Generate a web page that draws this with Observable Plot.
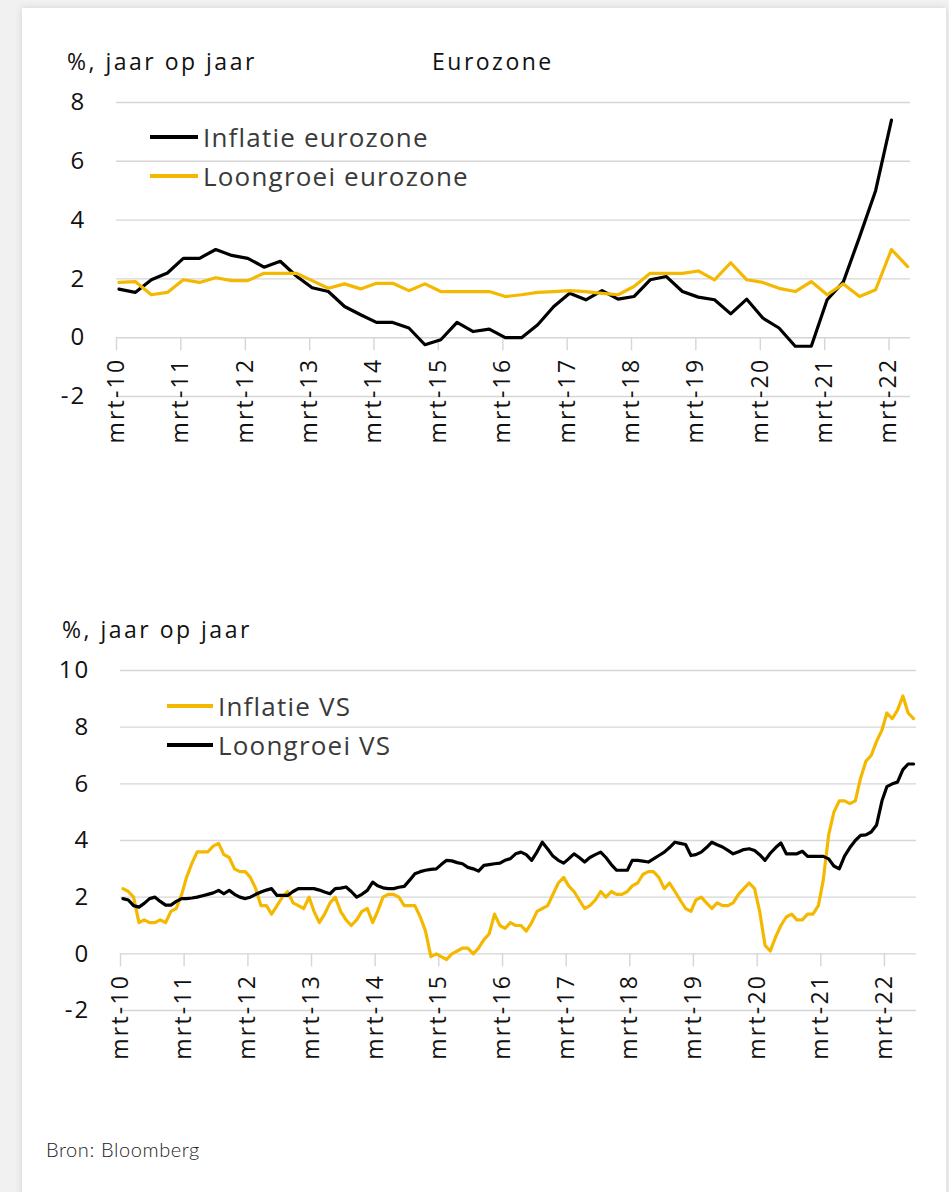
<!DOCTYPE html>
<html>
<head>
<meta charset="utf-8">
<script src="https://cdn.jsdelivr.net/npm/d3@7"></script>
<script src="https://cdn.jsdelivr.net/npm/@observablehq/plot@0.6"></script>
<style>
  html, body { margin: 0; padding: 0; background: #f1f1f1; }
  #page { position: relative; width: 949px; height: 1192px; overflow: hidden; background: #f1f1f1; }
  #card { position: absolute; left: 22px; top: 8px; width: 924px; height: 1200px; background: #fff;
          box-shadow: 0 0 7px rgba(0,0,0,0.13); }
  .abs { position: absolute; }
  .title { font-family: "Open Sans", sans-serif; font-size: 23px; letter-spacing: 2.5px; color: #111; white-space: nowrap; line-height: 1; }
  .leg { font-family: "Open Sans", sans-serif; font-size: 26px; letter-spacing: 1.2px; color: #3a3a3a; white-space: nowrap; line-height: 1; display: flex; align-items: center; }
  .leg .sw { display: inline-block; height: 3.5px; margin-right: 5px; }
  .caption { font-family: Lato, sans-serif; font-weight: 300; font-size: 20px; letter-spacing: 0.6px; color: #222; white-space: nowrap; }
  svg { position: absolute; left: 0; }
</style>
</head>
<body>
<div id="page">
  <div id="card"></div>
</div>
<script>
// ---------- data ----------
const xTickLabels = ["mrt-10","mrt-11","mrt-12","mrt-13","mrt-14","mrt-15","mrt-16","mrt-17","mrt-18","mrt-19","mrt-20","mrt-21","mrt-22"];
const xTickYears = [2010,2011,2012,2013,2014,2015,2016,2017,2018,2019,2020,2021,2022];
const yTicksTop = [-2, 0, 2, 4, 6, 8];
const yTicksBottom = [-2, 0, 2, 4, 6, 8, 10];

// Eurozone, quarterly from mrt-10
const euroInflation = [
  1.65, 1.54, 1.97, 2.2,
  2.7, 2.7, 3.0, 2.8,
  2.7, 2.4, 2.6, 2.1,
  1.7, 1.57, 1.06, 0.78,
  0.52, 0.52, 0.33, -0.24,
  -0.07, 0.52, 0.21, 0.29,
  0.0, 0.0, 0.44, 1.06,
  1.51, 1.29, 1.6, 1.31,
  1.4, 1.97, 2.08, 1.57,
  1.38, 1.29, 0.81, 1.31,
  0.67, 0.33, -0.29, -0.29,
  1.29, 1.9, 3.43, 5.0,
  7.4
];
const euroWages = [
  1.88, 1.91, 1.46, 1.54,
  1.97, 1.88, 2.04, 1.94,
  1.94, 2.19, 2.19, 2.19,
  1.94, 1.68, 1.83, 1.66,
  1.85, 1.85, 1.6, 1.83,
  1.57, 1.57, 1.57, 1.57,
  1.4, 1.46, 1.54, 1.57,
  1.6, 1.57, 1.51, 1.46,
  1.74, 2.19, 2.19, 2.19,
  2.27, 1.97, 2.55, 1.97,
  1.88, 1.68, 1.57, 1.91,
  1.46, 1.83, 1.4, 1.63,
  3.0, 2.42
];

// United States, monthly from mrt-10
const usInflation = [
  2.3, 2.2, 2.0, 1.1, 1.2, 1.1, 1.1, 1.2, 1.1, 1.5,
  1.6, 2.1, 2.7, 3.2, 3.6, 3.6, 3.6, 3.8, 3.9, 3.5, 3.4, 3.0,
  2.9, 2.9, 2.7, 2.3, 1.7, 1.7, 1.4, 1.7, 2.0, 2.2, 1.8, 1.7,
  1.6, 2.0, 1.5, 1.1, 1.4, 1.8, 2.0, 1.5, 1.2, 1.0, 1.2, 1.5,
  1.6, 1.1, 1.5, 2.0, 2.1, 2.1, 2.0, 1.7, 1.7, 1.7, 1.3, 0.8,
  -0.1, 0.0, -0.1, -0.2, 0.0, 0.1, 0.2, 0.2, 0.0, 0.2, 0.5, 0.7,
  1.4, 1.0, 0.9, 1.1, 1.0, 1.0, 0.8, 1.1, 1.5, 1.6, 1.7, 2.1,
  2.5, 2.7, 2.4, 2.2, 1.9, 1.6, 1.7, 1.9, 2.2, 2.0, 2.2, 2.1,
  2.1, 2.2, 2.4, 2.5, 2.8, 2.9, 2.9, 2.7, 2.3, 2.5, 2.2, 1.9,
  1.6, 1.5, 1.9, 2.0, 1.8, 1.6, 1.8, 1.7, 1.7, 1.8, 2.1, 2.3,
  2.5, 2.3, 1.5, 0.3, 0.1, 0.6, 1.0, 1.3, 1.4, 1.2, 1.2, 1.4,
  1.4, 1.7, 2.6, 4.2, 5.0, 5.4, 5.4, 5.3, 5.4, 6.2, 6.8, 7.0,
  7.5, 7.9, 8.5, 8.3, 8.6, 9.1, 8.5, 8.3
];
const usWages = [
  1.95, 1.9, 1.7, 1.65, 1.78, 1.95, 2.0, 1.85, 1.72, 1.72,
  1.85, 1.95, 1.95, 1.97, 2.0, 2.05, 2.1, 2.15, 2.24, 2.12, 2.24, 2.1,
  2.0, 1.95, 2.0, 2.1, 2.18, 2.25, 2.3, 2.06, 2.06, 2.06, 2.2, 2.3,
  2.3, 2.3, 2.3, 2.25, 2.18, 2.12, 2.3, 2.32, 2.36, 2.2, 2.0, 2.1,
  2.24, 2.53, 2.4, 2.33, 2.3, 2.3, 2.35, 2.38, 2.6, 2.83, 2.9, 2.95,
  2.98, 3.0, 3.15, 3.3, 3.28, 3.22, 3.18, 3.05, 3.0, 2.92, 3.12, 3.15,
  3.18, 3.2, 3.3, 3.36, 3.53, 3.59, 3.5, 3.3, 3.6, 3.94, 3.7, 3.45,
  3.3, 3.2, 3.35, 3.53, 3.4, 3.24, 3.4, 3.5, 3.59, 3.4, 3.15, 2.95,
  2.95, 2.95, 3.3, 3.3, 3.27, 3.24, 3.35, 3.47, 3.59, 3.75, 3.94, 3.9,
  3.86, 3.47, 3.5, 3.59, 3.75, 3.94, 3.85, 3.77, 3.65, 3.53, 3.6, 3.68,
  3.71, 3.65, 3.5, 3.3, 3.55, 3.75, 3.91, 3.53, 3.53, 3.53, 3.62, 3.44,
  3.44, 3.44, 3.44, 3.35, 3.1, 3.0, 3.45, 3.75, 4.0, 4.18, 4.2, 4.3,
  4.55, 5.4, 5.9, 6.0, 6.06, 6.5, 6.7, 6.7
];

const titleY = "%, jaar op jaar";
const titleTop = "Eurozone";
const legendTop = ["Inflatie eurozone", "Loongroei eurozone"];
const legendBottom = ["Inflatie VS", "Loongroei VS"];
const caption = "Bron: Bloomberg";

// ---------- helpers ----------
const GOLD = "#f5b800";
const BLACK = "#000000";
const GRID = "#d6d6d6";
const rowsFrom = (values, stepMonths) =>
  values.map((v, i) => ({date: new Date(Date.UTC(2010, 2 + stepMonths * i, 15)), value: v}));
const tickDates = xTickYears.map(y => new Date(Date.UTC(y, 2, 1)));

const page = document.getElementById("page");
function addDiv(cls, text, left, top) {
  const d = document.createElement("div");
  d.className = "abs " + cls;
  d.textContent = text;
  d.style.left = left + "px";
  d.style.top = top + "px";
  page.appendChild(d);
  return d;
}
function addLegend(label, color, left, top, swWidth) {
  const d = document.createElement("div");
  d.className = "abs leg";
  d.style.left = left + "px";
  d.style.top = top + "px";
  const sw = document.createElement("span");
  sw.className = "sw";
  sw.style.width = swWidth + "px";
  sw.style.background = color;
  const t = document.createElement("span");
  t.textContent = label;
  d.appendChild(sw); d.appendChild(t);
  page.appendChild(d);
}

const svgStyle = {fontFamily: "'Open Sans', sans-serif", fontSize: "23px", color: "#111", background: "transparent", overflow: "visible", letterSpacing: "2.2px"};

function chart({height, marginTop, marginBottom, marginLeft, marginRight, xDomain, yDomain, yTicks, series}) {
  return Plot.plot({
    width: 949, height, marginTop, marginBottom, marginLeft, marginRight,
    style: svgStyle,
    x: {type: "utc", domain: xDomain, axis: null},
    y: {domain: yDomain, axis: null},
    marks: [
      Plot.gridY(yTicks, {stroke: GRID, strokeOpacity: 1, strokeWidth: 1.4}),
      Plot.axisY(yTicks, {tickSize: 0, tickPadding: 30, fontSize: 24, fill: "#111", label: null, tickFormat: d => String(d)}),
      Plot.ruleX(tickDates, {x: d => d, y1: 0, y2: 0, insetBottom: -13, stroke: GRID, strokeWidth: 1.4}),
      Plot.text(tickDates, {x: d => d, y: 0, text: (d, i) => xTickLabels[i], rotate: -90, textAnchor: "end", lineAnchor: "middle", dy: 20, fontSize: 23, fill: "#111"}),
      ...series.map(s => Plot.line(s.rows, {x: "date", y: "value", stroke: s.color, strokeWidth: 3.2, strokeLinejoin: "round"}))
    ]
  });
}

// ---------- top chart: Eurozone ----------
const topSvg = chart({
  height: 470, marginTop: 102, marginBottom: 74, marginLeft: 116, marginRight: 39,
  xDomain: [new Date(Date.UTC(2010, 2, 1)), new Date(Date.UTC(2022, 6, 1))],
  yDomain: [-2, 8], yTicks: yTicksTop,
  series: [
    {rows: rowsFrom(euroInflation, 3), color: BLACK},
    {rows: rowsFrom(euroWages, 3), color: GOLD}
  ]
});
topSvg.style.top = "0px";
page.appendChild(topSvg);

// ---------- bottom chart: VS ----------
const botSvg = chart({
  height: 500, marginTop: 80, marginBottom: 80, marginLeft: 120, marginRight: 33,
  xDomain: [new Date(Date.UTC(2010, 2, 1)), new Date(Date.UTC(2022, 8, 1))],
  yDomain: [-2, 10], yTicks: yTicksBottom,
  series: [
    {rows: rowsFrom(usInflation, 1), color: GOLD},
    {rows: rowsFrom(usWages, 1), color: BLACK}
  ]
});
botSvg.style.top = "590px";
page.appendChild(botSvg);

// ---------- texts & legends ----------
addDiv("title", titleY, 67, 50);
addDiv("title", titleTop, 432, 50);
addDiv("title", titleY, 62, 618);
addLegend(legendTop[0], BLACK, 150, 124, 48);
addLegend(legendTop[1], GOLD, 150, 163, 48);
addLegend(legendBottom[0], GOLD, 167, 693, 46);
addLegend(legendBottom[1], BLACK, 167, 732, 46);
addDiv("caption", caption, 46, 1137);
</script>
</body>
</html>
